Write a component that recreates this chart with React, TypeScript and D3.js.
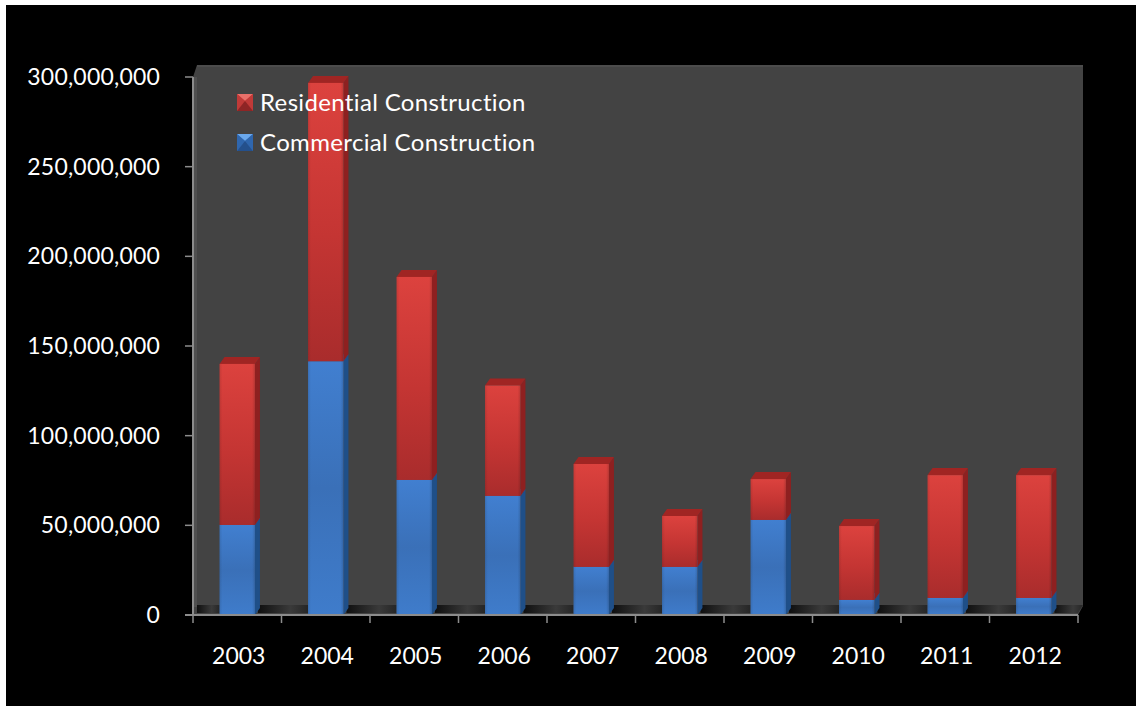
import React from "react";
import * as d3 from "d3";

// Annual construction totals, stacked by sector
const years = ["2003", "2004", "2005", "2006", "2007", "2008", "2009", "2010", "2011", "2012"];
const commercial = [50200000, 141500000, 75300000, 66400000, 26800000, 26800000, 53000000, 8400000, 9500000, 9500000];
const residential = [89800000, 155200000, 113200000, 61600000, 57400000, 28400000, 22800000, 41200000, 68500000, 68500000];
const yTicks = [0, 50000000, 100000000, 150000000, 200000000, 250000000, 300000000];
const legendLabels = ["Residential Construction", "Commercial Construction"];

const W = 1136;
const H = 706;
const FONT = "Lato, Carlito, sans-serif";
const AXIS = "#8c8c8c";
const DX = 5;
const DY = 7;

const y = d3.scaleLinear().domain([0, 300000000]).range([615, 77]);
const x = d3.scaleBand<string>().domain(years).range([193, 1078]).paddingInner(0.6).paddingOuter(0.3);
const fmt = d3.format(",");

const poly = (pts: [number, number][]) => pts.map((p) => p.join(",")).join(" ");

function Bar3D(props: { x0: number; w: number; top: number; bottom: number; fill: string; side: string; cap: string }) {
  const { x0, w, top, bottom, fill, side, cap } = props;
  const x1 = x0 + w;
  return (
    <g>
      <polygon points={poly([[x1, top], [x1 + DX, top - DY], [x1 + DX, bottom - DY], [x1, bottom]])} fill={side} />
      <polygon points={poly([[x0, top], [x0 + DX, top - DY], [x1 + DX, top - DY], [x1, top]])} fill={cap} />
      <rect x={x0} y={top} width={w} height={bottom - top} fill={fill} />
      <rect x={x0} y={top} width={w} height={bottom - top} fill="url(#bevel)" />
    </g>
  );
}

function LegendKey(props: { px: number; py: number; base: string; light: string; dark: string; mid: string }) {
  const { px, py, base, light, dark, mid } = props;
  const s = 16;
  const c: [number, number] = [px + s / 2, py + s / 2 - 1];
  return (
    <g>
      <rect x={px} y={py} width={s} height={s + 1} fill={base} />
      <polygon points={poly([[px, py], [px + s, py], c])} fill={light} />
      <polygon points={poly([[px, py], c, [px, py + s + 1]])} fill={mid} />
      <polygon points={poly([[px + s, py], c, [px + s, py + s + 1]])} fill={mid} />
      <polygon points={poly([[px, py + s + 1], c, [px + s, py + s + 1]])} fill={dark} />
    </g>
  );
}

export default function App() {
  const bw = x.bandwidth();
  const floorGaps = years.map((yr, i) => {
    const start = i === 0 ? 197 : (x(years[i - 1]) as number) + bw + DX - 2;
    return { yr, start, end: x(yr) as number };
  });
  const lastEnd = (x(years[years.length - 1]) as number) + bw + DX - 2;

  return (
    <svg width={W} height={H} style={{ position: "absolute", left: 0, top: 0, display: "block" }}>
      <defs>
        <linearGradient id="redFront" x1="0" y1="0" x2="0" y2="1">
          <stop offset="0" stopColor="#dc423e" />
          <stop offset="0.55" stopColor="#c43533" />
          <stop offset="1" stopColor="#a92c2c" />
        </linearGradient>
        <linearGradient id="blueFront" x1="0" y1="0" x2="0" y2="1">
          <stop offset="0" stopColor="#417fd0" />
          <stop offset="0.5" stopColor="#3a70b8" />
          <stop offset="1" stopColor="#3f7ccb" />
        </linearGradient>
        <linearGradient id="bevel" x1="0" y1="0" x2="1" y2="0">
          <stop offset="0" stopColor="#000" stopOpacity="0.1" />
          <stop offset="0.08" stopColor="#000" stopOpacity="0" />
          <stop offset="0.92" stopColor="#000" stopOpacity="0" />
          <stop offset="1" stopColor="#000" stopOpacity="0.14" />
        </linearGradient>
        <linearGradient id="floorGap" x1="0" y1="0" x2="1" y2="0">
          <stop offset="0" stopColor="#0f0f0f" />
          <stop offset="0.65" stopColor="#3a3a3a" />
          <stop offset="1" stopColor="#262626" />
        </linearGradient>
      </defs>

      <rect x={6} y={5} width={W - 6} height={H - 5} fill="#000" />

      {/* Back wall */}
      <polygon points={poly([[193, 77], [197, 65], [1083, 65], [1083, 606], [1078, 615], [193, 615]])} fill="#434343" />
      <rect x={197} y={65} width={886} height={2} fill="#4c4c4c" />
      <rect x={193} y={77} width={4} height={530} fill="#505050" />

      {/* Floor */}
      {floorGaps.map((g) => (
        <rect key={g.yr} x={g.start} y={605} width={g.end - g.start} height={8} fill="url(#floorGap)" />
      ))}
      <polygon points={poly([[lastEnd, 605], [1083, 605], [1078, 613], [lastEnd, 613]])} fill="url(#floorGap)" />

      {/* Stacked columns */}
      {years.map((yr, i) => {
        const x0 = x(yr) as number;
        return (
          <g key={yr}>
            <Bar3D x0={x0} w={bw} top={y(commercial[i])} bottom={y(0)} fill="url(#blueFront)" side="#1f4f88" cap="#2a5fa5" />
            <Bar3D
              x0={x0}
              w={bw}
              top={y(commercial[i] + residential[i])}
              bottom={y(commercial[i])}
              fill="url(#redFront)"
              side="#8e2020"
              cap="#a02523"
            />
          </g>
        );
      })}

      {/* Axes */}
      <line x1={193} x2={193} y1={y(300000000)} y2={y(0)} stroke={AXIS} strokeWidth={2} />
      <line x1={185} x2={1078} y1={y(0)} y2={y(0)} stroke={AXIS} strokeWidth={2} />
      {yTicks.map((t) => (
        <g key={t}>
          <line x1={185} x2={193} y1={y(t)} y2={y(t)} stroke={AXIS} strokeWidth={1.5} />
          <text x={160} y={y(t) + 8} textAnchor="end" fill="#fff" fontFamily={FONT} fontSize={23} letterSpacing={0.2}>
            {fmt(t)}
          </text>
        </g>
      ))}
      {d3.range(years.length + 1).map((i) => {
        const px = 193 + (i * (1078 - 193)) / years.length;
        return <line key={i} x1={px} x2={px} y1={615} y2={623} stroke={AXIS} strokeWidth={1.5} />;
      })}
      {years.map((yr) => (
        <text
          key={yr}
          x={(x(yr) as number) + bw / 2 + 1.5}
          y={664}
          textAnchor="middle"
          fill="#fff"
          fontFamily={FONT}
          fontSize={23}
        >
          {yr}
        </text>
      ))}

      {/* Legend */}
      <LegendKey px={237} py={94} base="#c43533" light="#e8706a" mid="#c03a38" dark="#8e2525" />
      <LegendKey px={237} py={134} base="#3a70b8" light="#6aa8ec" mid="#2f66ad" dark="#24508c" />
      <text x={260} y={111} fill="#fff" fontFamily={FONT} fontSize={24} letterSpacing={0.35}>
        {legendLabels[0]}
      </text>
      <text x={260} y={151} fill="#fff" fontFamily={FONT} fontSize={24} letterSpacing={0.35}>
        {legendLabels[1]}
      </text>
    </svg>
  );
}
